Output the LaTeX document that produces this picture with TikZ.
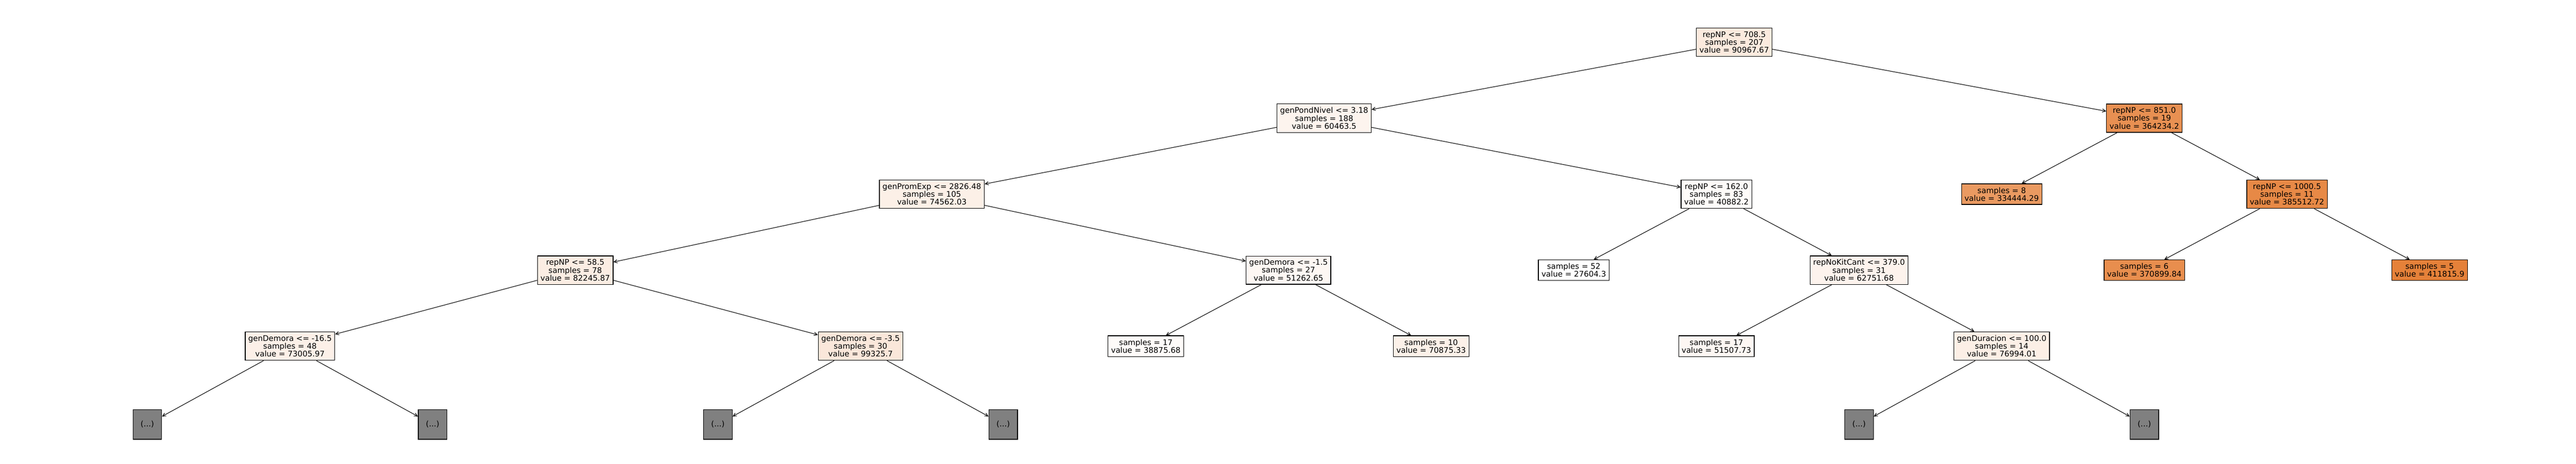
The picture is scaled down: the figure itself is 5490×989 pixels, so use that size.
\documentclass[tikz,border=0pt]{standalone}
\usepackage{fontspec}
\setmainfont{DejaVu Sans}
\usetikzlibrary{arrows.meta}
\definecolor{croot}{RGB}{251,234,222}
\definecolor{cpond}{RGB}{253,244,238}
\definecolor{cnpa}{RGB}{232,144,82}
\definecolor{cprom}{RGB}{252,240,231}
\definecolor{cnpb}{RGB}{254,251,248}
\definecolor{cleafa}{RGB}{234,154,97}
\definecolor{cnpc}{RGB}{231,137,70}
\definecolor{cnpd}{RGB}{251,237,227}
\definecolor{cdema}{RGB}{253,247,243}
\definecolor{ckit}{RGB}{253,243,237}
\definecolor{cleafb}{RGB}{232,142,78}
\definecolor{cleafc}{RGB}{229,129,57}
\definecolor{cdemb}{RGB}{252,240,232}
\definecolor{cdemc}{RGB}{250,231,218}
\definecolor{cleafd}{RGB}{254,251,249}
\definecolor{cleafe}{RGB}{252,241,233}
\definecolor{cleaff}{RGB}{253,247,243}
\definecolor{cdur}{RGB}{252,239,230}
\definecolor{cgrey}{RGB}{128,128,128}
\begin{document}
\begin{tikzpicture}[x=1pt,y=-1pt]
\useasboundingbox (0,0) rectangle (5490,989);
\tikzstyle{box}=[draw,line width=1.4pt,align=center,inner xsep=6.5pt,inner ysep=7.3pt,font=\fontsize{16.5}{16.7}\selectfont]
\tikzstyle{trunc}=[box,fill=cgrey,minimum width=61pt,minimum height=63pt]
\tikzstyle{link}=[line width=1.2pt,-{Straight Barb[length=7pt,width=7pt]}]
% level 0 and 1
\node[box,fill=croot] (r) at (3696,90) {repNP <= 708.5\\samples = 207\\value = 90967.67};
\node[box,fill=cpond] (pond) at (2822,252) {genPondNivel <= 3.18\\samples = 188\\value = 60463.5};
\node[box,fill=cnpa] (np851) at (4570,252) {repNP <= 851.0\\samples = 19\\value = 364234.2};
% level 2
\node[box,fill=cprom] (prom) at (1986,414) {genPromExp <= 2826.48\\samples = 105\\value = 74562.03};
\node[box,fill=cnpb] (np162) at (3658,414) {repNP <= 162.0\\samples = 83\\value = 40882.2};
\node[box,fill=cleafa] (l8) at (4266,414) {samples = 8\\value = 334444.29};
\node[box,fill=cnpc] (np1000) at (4874,414) {repNP <= 1000.5\\samples = 11\\value = 385512.72};
% level 3
\node[box,fill=cnpd] (np58) at (1226,576) {repNP <= 58.5\\samples = 78\\value = 82245.87};
\node[box,fill=cdema] (dem15) at (2746,576) {genDemora <= -1.5\\samples = 27\\value = 51262.65};
\node[box,fill=white] (l52) at (3354,576) {samples = 52\\value = 27604.3};
\node[box,fill=ckit] (kit) at (3962,576) {repNoKitCant <= 379.0\\samples = 31\\value = 62751.68};
\node[box,fill=cleafb] (l6) at (4570,576) {samples = 6\\value = 370899.84};
\node[box,fill=cleafc] (l5) at (5178,576) {samples = 5\\value = 411815.9};
% level 4
\node[box,fill=cdemb] (dem165) at (618,738) {genDemora <= -16.5\\samples = 48\\value = 73005.97};
\node[box,fill=cdemc] (dem35) at (1834,738) {genDemora <= -3.5\\samples = 30\\value = 99325.7};
\node[box,fill=cleafd] (l17a) at (2442,738) {samples = 17\\value = 38875.68};
\node[box,fill=cleafe] (l10) at (3050,738) {samples = 10\\value = 70875.33};
\node[box,fill=cleaff] (l17b) at (3658,738) {samples = 17\\value = 51507.73};
\node[box,fill=cdur] (dur) at (4266,738) {genDuracion <= 100.0\\samples = 14\\value = 76994.01};
% truncated
\node[trunc] (g1) at (314,905) {(...)};
\node[trunc] (g2) at (922,905) {(...)};
\node[trunc] (g3) at (1530,905) {(...)};
\node[trunc] (g4) at (2138,905) {(...)};
\node[trunc] (g5) at (3962,905) {(...)};
\node[trunc] (g6) at (4570,905) {(...)};
\path[link] (r) edge (pond) (r) edge (np851)
(pond) edge (prom) (pond) edge (np162)
(np851) edge (l8) (np851) edge (np1000)
(prom) edge (np58) (prom) edge (dem15)
(np162) edge (l52) (np162) edge (kit)
(np1000) edge (l6) (np1000) edge (l5)
(np58) edge (dem165) (np58) edge (dem35)
(dem15) edge (l17a) (dem15) edge (l10)
(kit) edge (l17b) (kit) edge (dur)
(dem165) edge (g1) (dem165) edge (g2)
(dem35) edge (g3) (dem35) edge (g4)
(dur) edge (g5) (dur) edge (g6);
\end{tikzpicture}
\end{document}
